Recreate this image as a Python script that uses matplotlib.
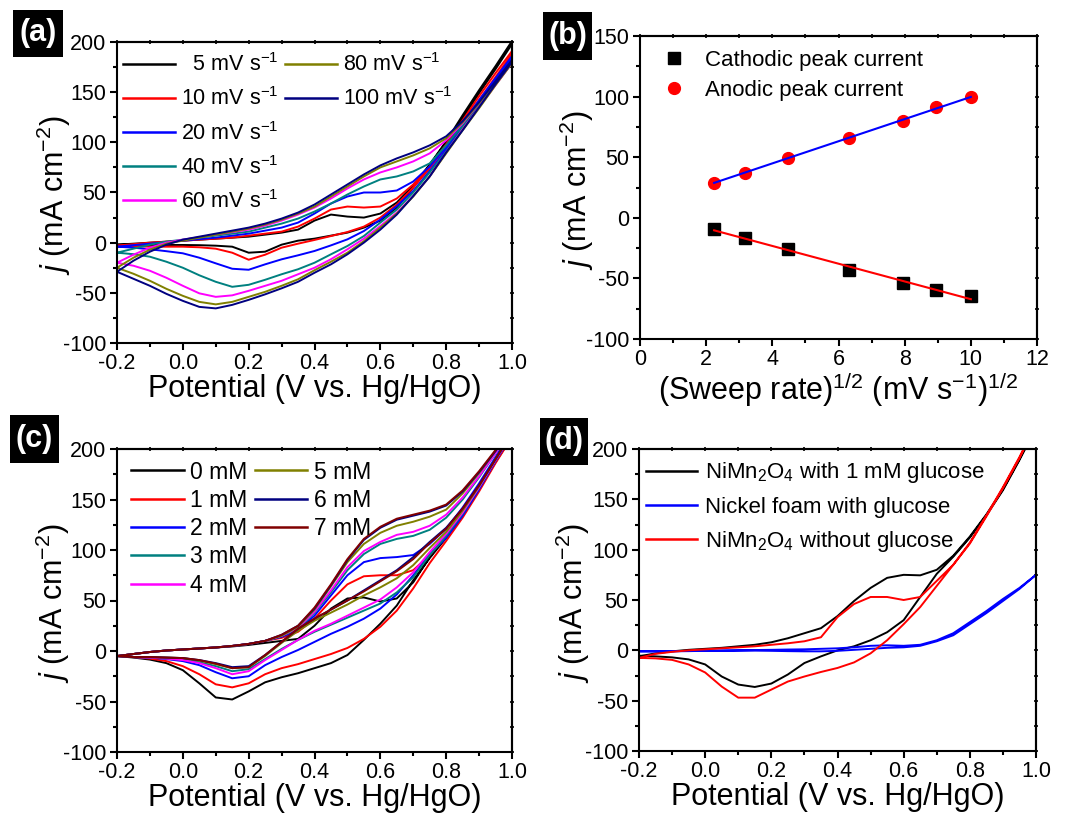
import matplotlib
matplotlib.use('Agg')
import matplotlib.pyplot as plt
import numpy as np
from matplotlib.patches import Rectangle
from matplotlib.lines import Line2D
from matplotlib.ticker import MultipleLocator, FormatStrFormatter

plt.rcParams['font.family'] = ['Liberation Sans', 'DejaVu Sans']
plt.rcParams['mathtext.fontset'] = 'custom'
plt.rcParams['mathtext.rm'] = 'Liberation Sans'
plt.rcParams['mathtext.it'] = 'Liberation Sans:italic'
plt.rcParams['axes.unicode_minus'] = False

# potential grid (V vs. Hg/HgO), shared by every CV branch
POT = [-0.2, -0.15, -0.1, -0.05, 0.0, 0.05, 0.1, 0.15, 0.2, 0.25, 0.3, 0.35,
       0.4, 0.45, 0.5, 0.55, 0.6, 0.65, 0.7, 0.75, 0.8, 0.85, 0.9, 0.95, 1.0]

# (a) sweep rates: anodic (forward) and cathodic (reverse) branches, mA cm-2
RATE_LABELS = ['5', '10', '20', '40', '60', '80', '100']
RATE_COLORS = ['#000000', '#ff0000', '#0000ff', '#008080', '#ff00ff', '#808000', '#000080']
a_fwd_5 = [-2, -1, 0, 1, 2, 3, 4, 5, 6, 8, 10, 13, 22, 28, 26, 25, 29, 40, 57, 78, 101, 127, 152, 176, 201]
a_rev_5 = [-2, -2, -2.3, -2.3, -2.3, -2.5, -3, -4, -10, -9, -2, 2, 4, 7, 10, 15, 22, 35, 55, 77, 100, 124, 149, 173, 198]
a_fwd_10 = [-3, -1.5, 0, 1, 2, 3, 4, 5, 7, 9, 11, 16, 24, 33, 36, 35, 36, 44, 58, 76, 98, 122, 146, 169, 191]
a_rev_10 = [-3, -3.5, -4, -4, -4, -4.6, -6, -10, -17, -12, -5, -1, 2.7, 6.6, 10.6, 16, 25, 38, 55, 74, 96, 119, 142, 165, 188]
a_fwd_20 = [-4, -2.5, -1, 0.5, 2, 3.5, 5, 7, 9, 12, 15, 20, 29, 39, 46, 50, 50, 52, 61, 76, 96, 119, 142, 164, 186]
a_rev_20 = [-4, -5, -6.6, -8.5, -10.6, -15, -20.6, -26, -27, -21.6, -16.6, -12.6, -8.3, -2.7, 3.3, 11.6, 23, 36.5, 51.5, 71.4, 93, 116, 139, 161, 184]
a_fwd_40 = [-10, -6, -2, 1, 3, 5, 7, 9, 11, 15, 19, 24, 31, 39, 48, 56, 63, 66, 71, 79, 97, 117, 138, 160, 181]
a_rev_40 = [-10, -11.5, -14, -19, -25, -32.5, -39, -44, -42, -37, -31.5, -26.5, -20, -11.6, -3.3, 6.6, 20, 33, 50, 70, 91, 114, 136, 158, 179]
a_fwd_60 = [-20, -12, -5, 0, 3, 5.5, 8, 10.5, 13, 17, 22, 28, 35, 44, 54, 63, 70, 75, 81, 89, 102, 119, 139, 160, 181]
a_rev_60 = [-20, -23, -28, -35, -43, -50.5, -54, -52.5, -48, -43, -38, -31.5, -25, -16.5, -6.6, 4, 16.6, 30, 46.5, 66, 90, 113, 135, 157, 179]
a_fwd_80 = [-25, -15, -7, -1, 2, 5, 8, 11, 14, 18, 23, 29, 36, 46, 56, 66, 75, 81, 87, 94, 104, 120, 139, 160, 181]
a_rev_80 = [-25, -31, -38, -46, -53, -59, -61.5, -59, -54, -49, -43, -36.5, -27.5, -19, -10, 1.5, 15, 29, 46, 66, 89, 112, 134, 157, 179]
a_fwd_100 = [-29, -18, -9, -2, 3, 6, 9, 12, 15, 19, 24, 30, 38, 48, 58, 68, 77, 84, 90, 97, 106, 121, 140, 161, 182]
a_rev_100 = [-29, -36, -43, -51, -58, -64, -65.5, -62, -57, -51.5, -45.5, -39, -30, -21.6, -11.6, 0, 13, 28, 46.5, 66, 90, 112, 135, 158, 180]

# (b) peak currents vs square root of sweep rate
SQRT_RATE = [2.24, 3.16, 4.47, 6.32, 7.95, 8.94, 10.0]
CATHODIC = [-9.5, -16.5, -26, -43, -54, -59.5, -64.5]
ANODIC = [29, 37, 49.5, 66, 79.5, 91.5, 99.5]

# (c) glucose concentrations
CONC_LABELS = ['0', '1', '2', '3', '4', '5', '6', '7']
CONC_COLORS = ['#000000', '#ff0000', '#0000ff', '#008080', '#ff00ff', '#808000', '#000080', '#800000']
c_fwd_0 = [-5, -3, -1, 0.5, 1.5, 2.5, 3.5, 4.5, 6, 8, 10, 12, 25, 42, 52, 53, 49, 52, 68, 93, 114, 137, 162, 190, 216]
c_rev_0 = [-5, -6.5, -8.5, -12, -19, -32, -46, -48, -40, -31, -26, -22, -17, -12, -4, 11, 27, 45, 70, 92, 112, 135, 160, 187, 212]
c_fwd_1 = [-5, -3, -1, 0.5, 1.5, 2.5, 3.5, 5, 7, 10, 13, 19, 32, 50, 66, 74, 75, 75, 80, 95, 114, 137, 162, 190, 216]
c_rev_1 = [-5, -6, -7.5, -10, -15, -23, -33, -36, -32, -23, -17, -13, -8, -3, 3, 12, 24, 40, 62, 87, 109, 132, 158, 186, 212]
c_fwd_2 = [-5, -3, -1, 0.5, 1.5, 2.5, 3.5, 5, 7, 10, 14, 21, 35, 55, 75, 88, 92, 93, 95, 106, 121, 142, 166, 192, 218]
c_rev_2 = [-5, -6, -6.5, -8, -10, -14, -21, -27, -25, -14, -6, 1, 9, 17, 24, 32, 42, 56, 75, 96, 112, 134, 160, 188, 214]
c_fwd_3 = [-5, -3, -1, 0.5, 1.5, 2.5, 3.5, 5, 7, 10, 15, 22, 38, 58, 80, 96, 106, 111, 114, 120, 132, 150, 172, 196, 220]
c_rev_3 = [-5, -6, -6.5, -7.5, -8, -11, -15, -20, -18, -8, 2, 11, 19, 26, 33, 40, 47, 58, 73, 95, 114, 136, 162, 189, 215]
c_fwd_4 = [-5, -3, -1, 0.5, 1.5, 2.5, 3.5, 5, 7, 10, 15, 23, 39, 60, 83, 99, 108, 115, 118, 124, 135, 152, 173, 196, 220]
c_rev_4 = [-5, -6, -6.5, -7.5, -9, -12, -17, -23, -20, -9, 1, 11, 20, 27, 35, 43, 51, 63, 78, 98, 116, 137, 162, 189, 215]
c_fwd_5 = [-5, -3, -1, 0.5, 1.5, 2.5, 3.5, 5, 7, 10, 15, 24, 41, 64, 88, 106, 117, 124, 128, 133, 140, 156, 176, 198, 221]
c_rev_5 = [-5, -6, -6, -6.5, -7, -9.5, -13, -17, -16, -5, 8, 20, 30, 38, 46, 55, 63, 72, 85, 102, 118, 139, 163, 190, 216]
c_fwd_6 = [-5, -3, -1, 0.5, 1.5, 2.5, 3.5, 5, 7, 10, 16, 25, 42, 65, 90, 110, 122, 130, 134, 138, 144, 158, 177, 198, 221]
c_rev_6 = [-5, -6, -6, -6.5, -7, -9, -12, -16, -15, -4, 9, 22, 32, 41, 50, 60, 70, 80, 93, 108, 122, 141, 164, 190, 216]
c_fwd_7 = [-5, -3, -1, 0.5, 1.5, 2.5, 3.5, 5, 7, 10, 16, 25, 43, 66, 91, 111, 123, 131, 135, 139, 145, 159, 178, 199, 222]
c_rev_7 = [-5, -6, -6, -6.5, -7, -9, -12.5, -17, -16, -4, 9, 22, 32, 41, 50, 59, 69, 79, 91, 107, 121, 141, 164, 190, 216]

# (d) control experiments
D_LABELS = ['NiMn$_2$O$_4$ with 1 mM glucose', 'Nickel foam with glucose', 'NiMn$_2$O$_4$ without glucose']
D_COLORS = ['#000000', '#0000ff', '#ff0000']
d_fwd_glu = [-6, -3, -1, 0.5, 1.5, 2.5, 4, 5.5, 8, 12, 17, 22, 34, 49, 62, 72, 75, 74.5, 80, 94, 113, 135, 160, 190, 222]
d_rev_glu = [-5.3, -6, -7, -9, -14, -26, -34, -36.4, -33, -24, -12.6, -6, 0, 4, 10, 18, 30, 53, 76, 93, 112, 134, 159, 189, 221]
d_fwd_ni = [-1, -1, -0.8, -0.6, -0.5, -0.3, 0, 0.3, 0.5, 0.8, 1, 1.5, 2, 3, 4.5, 5, 4.5, 5.5, 10, 17, 28, 39, 51, 62, 75]
d_rev_ni = [-1, -1, -1, -0.8, -0.5, -0.3, -0.3, -0.3, -0.5, -0.8, -1, -1, -0.5, 0.5, 1.5, 2.5, 3, 4.5, 9, 15, 26, 37, 49, 61, 75]
d_fwd_bare = [-7.5, -3.5, -1.5, 0, 1, 2, 3, 4, 5.5, 7, 9, 13, 33, 46, 53, 53, 50, 53, 69, 85, 107, 134, 162, 192, 225]
d_rev_bare = [-7.5, -8, -9.5, -14, -22, -36, -47, -47, -39, -31, -26, -21.5, -17.5, -12, -3, 10, 26, 43, 64, 85, 106, 133, 161, 191, 224]

W, H = 1069, 815
YLABEL = r'$j$ (mA cm$^{-2}$)'
XLABEL = 'Potential (V vs. Hg/HgO)'
TICK_FS = 15.5
LABEL_FS = 22


def add_axes_px(fig, x0, y0, x1, y1):
    return fig.add_axes([x0 / W, 1 - y1 / H, (x1 - x0) / W, (y1 - y0) / H])


def style(ax, xmaj, xmin, ymaj, ymin):
    for s in ax.spines.values():
        s.set_linewidth(1.5)
    for axis, maj, mnr in ((ax.xaxis, xmaj, xmin), (ax.yaxis, ymaj, ymin)):
        axis.set_major_locator(MultipleLocator(maj))
        axis.set_minor_locator(MultipleLocator(mnr))
    ax.tick_params(which='both', direction='out', width=1.5, labelsize=TICK_FS, pad=2.5)
    ax.tick_params(which='major', length=5)
    ax.tick_params(which='minor', length=3)
    top = ax.secondary_xaxis('top')
    right = ax.secondary_yaxis('right')
    top.xaxis.set_major_locator(MultipleLocator(xmin))
    right.yaxis.set_major_locator(MultipleLocator(ymin))
    top.tick_params(direction='inout', length=3, width=1.2, labeltop=False)
    right.tick_params(direction='inout', length=3, width=1.2, labelright=False)
    top.spines['top'].set_linewidth(1.5)
    right.spines['right'].set_linewidth(1.5)


def draw_cv(ax, fwd, rev, color):
    assert len(fwd) == len(POT) and len(rev) == len(POT)
    ax.plot(POT + POT[::-1], fwd + rev[::-1], color=color, lw=1.4)


def set_labels(ax, xlabel, ylabel_x):
    ax.set_xlabel(xlabel, fontsize=LABEL_FS, labelpad=0)
    ax.set_ylabel(YLABEL, fontsize=LABEL_FS)
    ax.yaxis.set_label_coords(ylabel_x, 0.49)


def potential_axes(ax, ylabel_x):
    ax.set_xlim(-0.2, 1.0)
    ax.set_ylim(-100, 200)
    style(ax, 0.2, 0.1, 50, 25)
    ax.xaxis.set_major_formatter(FormatStrFormatter('%.1f'))
    set_labels(ax, XLABEL, ylabel_x)


def panel_tag(fig, text, x, y, w, h):
    fig.add_artist(Rectangle((x / W, 1 - (y + h) / H), w / W, h / H,
                             transform=fig.transFigure, facecolor='black', edgecolor='none'))
    fig.text((x + w / 2) / W, 1 - (y + h / 2) / H, text, color='white', fontsize=22,
             fontweight='bold', ha='center', va='center')


def blank():
    return Line2D([], [], color='none')


fig = plt.figure(figsize=(W / 100, H / 100), dpi=100)

# (a)
ax = add_axes_px(fig, 117, 42, 512, 343)
a_curves = [(a_fwd_5, a_rev_5), (a_fwd_10, a_rev_10), (a_fwd_20, a_rev_20), (a_fwd_40, a_rev_40),
            (a_fwd_60, a_rev_60), (a_fwd_80, a_rev_80), (a_fwd_100, a_rev_100)]
handles = []
for (f, r), col in zip(a_curves, RATE_COLORS):
    draw_cv(ax, f, r, col)
    handles.append(Line2D([], [], color=col, lw=1.8))
labels = ['  %s mV s$^{-1}$' % v if v == '5' else '%s mV s$^{-1}$' % v for v in RATE_LABELS]
potential_axes(ax, -0.112)
ax.legend(handles + [blank()] * 3, labels + [''] * 3, ncol=2, loc='upper left',
          bbox_to_anchor=(0.015, 0.962), frameon=False, fontsize=15.5, handlelength=2.4,
          handletextpad=0.3, columnspacing=0.3, labelspacing=0.52, borderpad=0, borderaxespad=0)

# (b)
ax = add_axes_px(fig, 640, 36, 1037, 339)
ax.set_xlim(0, 12)
ax.set_ylim(-100, 150)
style(ax, 2, 1, 50, 25)
ax.plot(SQRT_RATE, CATHODIC, 's', color='black', ms=8, label='Cathodic peak current')
ax.plot(SQRT_RATE, ANODIC, 'o', color='red', ms=8.5, label='Anodic peak current')
xs = np.array([SQRT_RATE[0], SQRT_RATE[-1]])
kc = np.polyfit(SQRT_RATE, CATHODIC, 1)
ka = np.polyfit(SQRT_RATE, ANODIC, 1)
ax.plot(xs, np.polyval(kc, xs), color='red', lw=1.5)
ax.plot(xs, np.polyval(ka, xs), color='blue', lw=1.5)
set_labels(ax, r'(Sweep rate)$^{1/2}$ (mV s$^{-1}$)$^{1/2}$', -0.11)
ax.legend(loc='upper left', bbox_to_anchor=(0.052, 0.955), frameon=False, fontsize=16,
          handlelength=1.2, handletextpad=0.8, labelspacing=0.42, borderpad=0, borderaxespad=0)

# (c)
ax = add_axes_px(fig, 117, 449, 512, 752)
c_curves = [(c_fwd_0, c_rev_0), (c_fwd_1, c_rev_1), (c_fwd_2, c_rev_2), (c_fwd_3, c_rev_3),
            (c_fwd_4, c_rev_4), (c_fwd_5, c_rev_5), (c_fwd_6, c_rev_6), (c_fwd_7, c_rev_7)]
handles = []
for (f, r), col in zip(c_curves, CONC_COLORS):
    draw_cv(ax, f, r, col)
    handles.append(Line2D([], [], color=col, lw=1.8))
potential_axes(ax, -0.115)
ax.legend(handles + [blank()] * 2, ['%s mM' % v for v in CONC_LABELS] + [''] * 2, ncol=2,
          loc='upper left', bbox_to_anchor=(0.035, 0.962), frameon=False, fontsize=16.5,
          handlelength=2.3, handletextpad=0.3, columnspacing=0.3, labelspacing=0.23,
          borderpad=0, borderaxespad=0)

# (d)
ax = add_axes_px(fig, 639, 449, 1036, 751)
d_curves = [(d_fwd_glu, d_rev_glu), (d_fwd_ni, d_rev_ni), (d_fwd_bare, d_rev_bare)]
handles = []
for (f, r), col in zip(d_curves, D_COLORS):
    draw_cv(ax, f, r, col)
    handles.append(Line2D([], [], color=col, lw=1.8))
potential_axes(ax, -0.118)
ax.legend(handles, D_LABELS, loc='upper left', bbox_to_anchor=(0.018, 0.962), frameon=False,
          fontsize=16, handlelength=2.3, handletextpad=0.35, labelspacing=0.5,
          borderpad=0, borderaxespad=0)

panel_tag(fig, '(a)', 13, 10, 50, 47)
panel_tag(fig, '(b)', 543, 12, 49, 48)
panel_tag(fig, '(c)', 10, 415, 49, 48)
panel_tag(fig, '(d)', 540, 418, 48, 47)

fig.savefig('out.png', dpi=100)
